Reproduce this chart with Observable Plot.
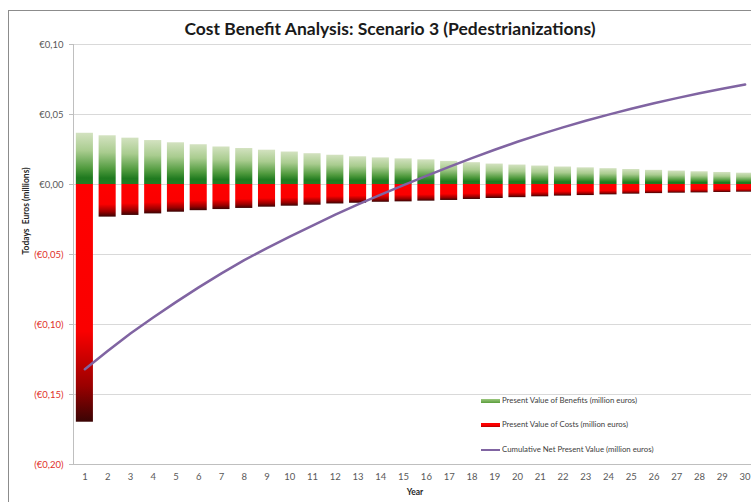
<!DOCTYPE html>
<html>
<head>
<meta charset="utf-8">
<script src="https://cdn.jsdelivr.net/npm/d3@7"></script>
<script src="https://cdn.jsdelivr.net/npm/@observablehq/plot@0.6"></script>
<style>
  html, body { margin: 0; padding: 0; background: #fff; overflow: hidden; width: 751px; height: 502px; }
  #wrap { position: relative; width: 751px; height: 502px; overflow: hidden; font-family: Lato, "Open Sans", sans-serif; }
  #border { position: absolute; left: 8px; top: 10px; width: 800px; height: 600px; border-top: 1px solid #8c8c8c; border-left: 1px solid #8c8c8c; }
  #title { position: absolute; left: 0; top: 18px; width: 780px; text-align: center; font-weight: bold; font-size: 17.5px; color: #1a1a1a; }
  #chart { position: absolute; left: 0; top: 0; width: 760px; }
  #chart svg { max-width: none !important; }
  .leg { position: absolute; left: 481px; font-size: 7.8px; color: #404040; white-space: nowrap; }
  .leg span.sw { display: inline-block; width: 19px; vertical-align: middle; margin-right: 2px; }
</style>
</head>
<body>
<div id="wrap">
  <div id="border"></div>
  <div id="chart"></div>
  <div id="title">Cost Benefit Analysis: Scenario 3 (Pedestrianizations)</div>
  <div class="leg" style="top:395px"><span class="sw" style="height:4px;background:linear-gradient(#9cc77e,#5a9e3c)"></span>Present Value of Benefits (million euros)</div>
  <div class="leg" style="top:419px"><span class="sw" style="height:4px;background:linear-gradient(#ff0000 50%,#b00000)"></span>Present Value of Costs (million euros)</div>
  <div class="leg" style="top:444px"><span class="sw" style="height:2px;background:#8064a2"></span>Cumulative Net Present Value (million euros)</div>
</div>
<script>
const years = d3.range(1, 31);
const benefits = [0.0366,0.0348,0.0331,0.0314,0.0298,0.0284,0.0268,0.0257,0.0245,0.0232,0.0220,0.0209,0.0198,0.0190,0.0183,0.0176,0.0165,0.0156,0.0146,0.0139,0.0132,0.0125,0.0119,0.0113,0.0107,0.0101,0.0096,0.0091,0.0086,0.0081];
const costs = [-0.1698,-0.0233,-0.0221,-0.0210,-0.0198,-0.0187,-0.0179,-0.0171,-0.0162,-0.0155,-0.0148,-0.0139,-0.0134,-0.0127,-0.0124,-0.0119,-0.0114,-0.0107,-0.0100,-0.0094,-0.0088,-0.0083,-0.0079,-0.0074,-0.0069,-0.0065,-0.0062,-0.0060,-0.0057,-0.0055];
const cumulativeNPV = [-0.132,-0.119,-0.1065,-0.095,-0.084,-0.0735,-0.0635,-0.054,-0.0455,-0.0372,-0.0293,-0.0215,-0.0142,-0.0072,-0.0005,0.0062,0.0126,0.0188,0.0248,0.0305,0.0358,0.0408,0.0455,0.0499,0.0541,0.0580,0.0617,0.0652,0.0684,0.0714];
const yTicks = [-0.2,-0.15,-0.1,-0.05,0,0.05,0.1];

const data = years.map((y, i) => ({year: y, benefit: benefits[i], cost: costs[i], npv: cumulativeNPV[i]}));

const fmtNum = v => v.toFixed(2).replace(".", ",");
const fmtEuro = d => d < -1e-9 ? `(€${fmtNum(-d)})` : `€${fmtNum(Math.abs(d))}`;

const chart = Plot.plot({
  width: 760,
  height: 502,
  marginTop: 44,
  marginBottom: 38,
  marginLeft: 73,
  marginRight: 4,
  style: {fontFamily: "Lato, 'Open Sans', sans-serif", background: "transparent", overflow: "visible"},
  x: {type: "band", domain: years, paddingInner: 0.25, paddingOuter: 0.125, align: 0.5, round: false},
  y: {domain: [-0.2, 0.1]},
  marks: [
    Plot.gridY(yTicks, {stroke: "#d9d9d9", strokeOpacity: 1}),
    Plot.barY(data, {x: "year", y: "benefit", fill: "url(#gradBenefit)"}),
    Plot.barY(data, {x: "year", y: "cost", fill: "url(#gradCost)"}),
    Plot.frame({anchor: "left", stroke: "#bfbfbf"}),
    Plot.frame({anchor: "bottom", stroke: "#bfbfbf"}),
    Plot.lineY(data, {x: "year", y: "npv", stroke: "#8064a2", strokeWidth: 2.5}),
    Plot.axisY(yTicks.filter(d => d >= 0), {tickSize: 4, tickPadding: 6, tickFormat: fmtEuro, fill: "#595959", stroke: "#bfbfbf", fontSize: 9.5, label: null}),
    Plot.axisY(yTicks.filter(d => d < 0), {tickSize: 4, tickPadding: 6, tickFormat: fmtEuro, fill: "#e0302a", stroke: "#bfbfbf", fontSize: 9.5, label: null}),
    Plot.axisX({tickSize: 0, tickPadding: 9, fill: "#595959", fontSize: 9.5, label: null}),
    Plot.text(["Year"], {frameAnchor: "bottom", dy: 30, fontWeight: "bold", fontSize: 8.5, fill: "#262626"}),
    Plot.text(["Todays  Euros (millions)"], {frameAnchor: "left", dx: -47, rotate: -90, fontWeight: "bold", fontSize: 8.5, fill: "#262626"})
  ]
});

const svg = chart.tagName.toLowerCase() === "svg" ? chart : chart.querySelector("svg");
svg.style.maxWidth = "none";
svg.insertAdjacentHTML("afterbegin", `
<defs>
  <linearGradient id="gradBenefit" x1="0" y1="0" x2="0" y2="1">
    <stop offset="0" stop-color="#d3e2c0"/>
    <stop offset="0.35" stop-color="#a9cc8f"/>
    <stop offset="0.7" stop-color="#4f9a3d"/>
    <stop offset="0.88" stop-color="#1f7a1f"/>
    <stop offset="1" stop-color="#237d23"/>
  </linearGradient>
  <linearGradient id="gradCost" x1="0" y1="0" x2="0" y2="1">
    <stop offset="0" stop-color="#ff0000"/>
    <stop offset="0.62" stop-color="#fa0000"/>
    <stop offset="0.85" stop-color="#9a0000"/>
    <stop offset="1" stop-color="#3a0404"/>
  </linearGradient>
</defs>`);
document.getElementById("chart").appendChild(chart);
</script>
</body>
</html>
